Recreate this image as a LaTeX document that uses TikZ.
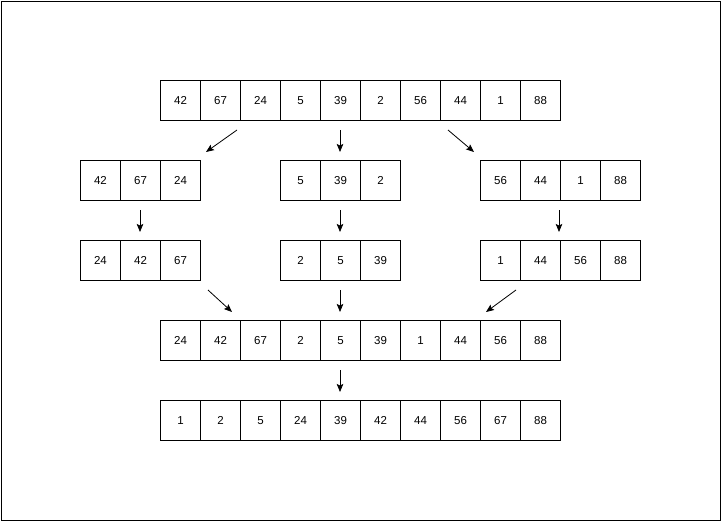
\documentclass[tikz,border=0pt]{standalone}
\usepackage{fontspec}
\setmainfont{Liberation Sans}
\usetikzlibrary{arrows.meta}
\begin{document}
\begin{tikzpicture}[x=1pt,y=-1pt,
  cell/.style={draw=black,line width=1pt,minimum width=40pt,minimum height=40pt,inner sep=0pt,anchor=north west,font=\fontsize{11.5}{12}\selectfont},
  arr/.style={line width=0.8pt,-{Stealth[length=8pt,width=6.5pt,inset=1.5pt]}}]
\useasboundingbox (0,0) rectangle (722,522);
\draw[line width=1pt] (1,1) rectangle (720,520);
% row 1
\foreach \v [count=\i] in {42,67,24,5,39,2,56,44,1,88}
  \node[cell] (a\i) at ({160+40*(\i-1)},80) {\v};
% row 2
\foreach \v [count=\i] in {42,67,24}
  \node[cell] (bl\i) at ({80+40*(\i-1)},160) {\v};
\foreach \v [count=\i] in {5,39,2}
  \node[cell] (bm\i) at ({280+40*(\i-1)},160) {\v};
\foreach \v [count=\i] in {56,44,1,88}
  \node[cell] (br\i) at ({480+40*(\i-1)},160) {\v};
% row 3
\foreach \v [count=\i] in {24,42,67}
  \node[cell] (cl\i) at ({80+40*(\i-1)},240) {\v};
\foreach \v [count=\i] in {2,5,39}
  \node[cell] (cm\i) at ({280+40*(\i-1)},240) {\v};
\foreach \v [count=\i] in {1,44,56,88}
  \node[cell] (cr\i) at ({480+40*(\i-1)},240) {\v};
% row 4
\foreach \v [count=\i] in {24,42,67,2,5,39,1,44,56,88}
  \node[cell] (d\i) at ({160+40*(\i-1)},320) {\v};
% row 5
\foreach \v [count=\i] in {1,2,5,24,39,42,44,56,67,88}
  \node[cell] (e\i) at ({160+40*(\i-1)},400) {\v};
% arrow endpoints
\coordinate (p1s) at (237,130); \coordinate (p1e) at (206,152);
\coordinate (p2s) at (340,130); \coordinate (p2e) at (340,152);
\coordinate (p3s) at (448,130); \coordinate (p3e) at (474,152);
\coordinate (q1s) at (140,210); \coordinate (q1e) at (140,232);
\coordinate (q2s) at (340,210); \coordinate (q2e) at (340,232);
\coordinate (q3s) at (559,210); \coordinate (q3e) at (559,232);
\coordinate (s1s) at (208,290); \coordinate (s1e) at (232,312);
\coordinate (s2s) at (340,290); \coordinate (s2e) at (340,312);
\coordinate (s3s) at (516,290); \coordinate (s3e) at (486,312);
\coordinate (t1s) at (340,370); \coordinate (t1e) at (340,392);
\foreach \n in {p1,p2,p3,q1,q2,q3,s1,s2,s3,t1}
  \draw[arr] (\n s) -- (\n e);
\end{tikzpicture}
\end{document}
